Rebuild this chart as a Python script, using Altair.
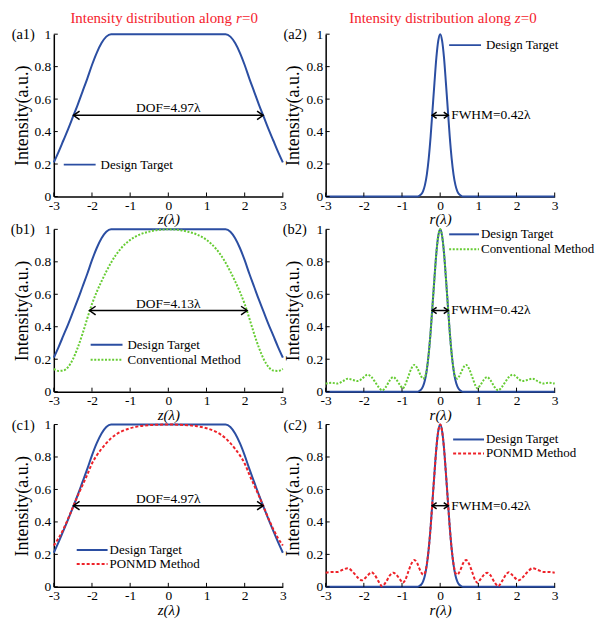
import altair as alt
import pandas as pd

FONT = "Liberation Serif"
BLUE = "#2b4ea2"
GREEN = "#66cc33"
RED = "#ee2229"
TITLE_RED = "#f5222d"

W, H = 230, 163

# ---------------- data ----------------
x_ticks = [-3, -2, -1, 0, 1, 2, 3]
y_ticks = [0, 0.2, 0.4, 0.6, 0.8, 1]

# intensity along r = 0 (function of z)
z_pos = [-3.0, -2.875, -2.75, -2.625, -2.5, -2.375, -2.25, -2.125, -2.0, -1.875,
         -1.75, -1.625, -1.5, -1.25, -1.0, -0.75, -0.5, -0.25, 0.0, 0.25, 0.5,
         0.75, 1.0, 1.25, 1.5, 1.625, 1.75, 1.875, 2.0, 2.125, 2.25, 2.375, 2.5,
         2.625, 2.75, 2.875, 3.0]
design_z = [0.21, 0.275, 0.345, 0.415, 0.49, 0.565, 0.645, 0.725, 0.81, 0.885,
            0.945, 0.985, 1.0, 1.0, 1.0, 1.0, 1.0, 1.0, 1.0, 1.0, 1.0,
            1.0, 1.0, 1.0, 1.0, 0.985, 0.945, 0.885, 0.81, 0.725, 0.645, 0.565, 0.49,
            0.415, 0.345, 0.275, 0.21]
conv_z = [0.14, 0.128, 0.13, 0.152, 0.2, 0.27, 0.355, 0.45, 0.54, 0.615,
          0.68, 0.74, 0.795, 0.88, 0.935, 0.968, 0.986, 0.997, 1.0, 0.997, 0.986,
          0.968, 0.935, 0.88, 0.795, 0.74, 0.68, 0.615, 0.54, 0.45, 0.355, 0.27, 0.2,
          0.152, 0.13, 0.128, 0.14]
ponmd_z = [0.255, 0.3, 0.355, 0.42, 0.49, 0.56, 0.625, 0.69, 0.76, 0.81,
           0.85, 0.885, 0.915, 0.955, 0.977, 0.99, 0.996, 0.999, 1.0, 0.999, 0.996,
           0.99, 0.977, 0.955, 0.915, 0.885, 0.85, 0.81, 0.76, 0.69, 0.625, 0.56, 0.49,
           0.42, 0.355, 0.3, 0.255]

# intensity along z = 0 (function of r)
r_design_pos = [-3.0, -0.6, -0.55, -0.5, -0.45, -0.4, -0.35, -0.3, -0.25, -0.2, -0.15,
                -0.1, -0.05, 0.0, 0.05, 0.1, 0.15, 0.2, 0.25, 0.3, 0.35, 0.4, 0.45,
                0.5, 0.55, 0.6, 3.0]
design_r = [0.0, 0.0, 0.004, 0.013, 0.032, 0.07, 0.135, 0.235, 0.37, 0.535, 0.70,
            0.855, 0.96, 1.0, 0.96, 0.855, 0.70, 0.535, 0.37, 0.235, 0.135, 0.07, 0.032,
            0.013, 0.004, 0.0, 0.0]

r_method_pos = [-3.0, -2.85, -2.7, -2.55, -2.42, -2.28, -2.15, -2.05, -1.9, -1.8, -1.72,
                -1.62, -1.52, -1.42, -1.32, -1.23, -1.15, -1.05, -0.98, -0.92, -0.84,
                -0.76, -0.68, -0.6, -0.55, -0.5, -0.45, -0.4, -0.35, -0.3, -0.25, -0.2,
                -0.15, -0.1, -0.05, 0.0,
                0.05, 0.1, 0.15, 0.2, 0.25, 0.3, 0.35, 0.4, 0.45, 0.5, 0.55, 0.6, 0.68,
                0.76, 0.84, 0.92, 0.98, 1.05, 1.15, 1.23, 1.32, 1.42, 1.52, 1.62, 1.72,
                1.8, 1.9, 2.05, 2.15, 2.28, 2.42, 2.55, 2.7, 2.85, 3.0]
conv_r = [0.05, 0.055, 0.05, 0.065, 0.08, 0.072, 0.065, 0.08, 0.105, 0.09, 0.065,
          0.03, 0.008, 0.03, 0.07, 0.09, 0.075, 0.04, 0.02, 0.04, 0.09,
          0.14, 0.165, 0.145, 0.12, 0.095, 0.08, 0.09, 0.14, 0.235, 0.37, 0.535,
          0.70, 0.855, 0.96, 1.0,
          0.96, 0.855, 0.70, 0.535, 0.37, 0.235, 0.14, 0.09, 0.08, 0.095, 0.12, 0.145, 0.165,
          0.14, 0.09, 0.04, 0.02, 0.04, 0.075, 0.09, 0.07, 0.03, 0.008, 0.03, 0.065,
          0.09, 0.105, 0.08, 0.065, 0.072, 0.08, 0.065, 0.05, 0.055, 0.05]
ponmd_r = [0.087, 0.092, 0.092, 0.105, 0.115, 0.09, 0.055, 0.04, 0.07, 0.09, 0.075,
           0.035, 0.004, 0.03, 0.07, 0.087, 0.075, 0.045, 0.025, 0.04, 0.09,
           0.14, 0.165, 0.145, 0.115, 0.09, 0.075, 0.085, 0.14, 0.235, 0.37, 0.535,
           0.70, 0.855, 0.96, 1.0,
           0.96, 0.855, 0.70, 0.535, 0.37, 0.235, 0.14, 0.085, 0.075, 0.09, 0.115, 0.145, 0.165,
           0.14, 0.09, 0.04, 0.025, 0.045, 0.075, 0.087, 0.07, 0.03, 0.004, 0.035, 0.075,
           0.09, 0.07, 0.04, 0.055, 0.09, 0.115, 0.105, 0.092, 0.092, 0.087]

series_names = ["Design Target", "Conventional Method", "PONMD Method"]
panel_labels = ["(a1)", "(a2)", "(b1)", "(b2)", "(c1)", "(c2)"]
dof_values = [4.97, 4.13, 4.97]
fwhm_values = [0.42, 0.42, 0.42]
title_left = ["Intensity distribution along", "r", "=0"]
title_right = ["Intensity distribution along", "z", "=0"]

TXT = 13.5
LEG = 13

# ---------------- helpers ----------------
def enc_x(title):
    return alt.X("x:Q", scale=alt.Scale(domain=[-3, 3], nice=False, zero=False),
                 axis=alt.Axis(values=x_ticks, title=title, labelExpr="'' + datum.value",
                               labelFlush=False, titleFontStyle="italic", titlePadding=0,
                               labelPadding=2))


def enc_y():
    return alt.Y("y:Q", scale=alt.Scale(domain=[0, 1], nice=False, zero=False),
                 axis=alt.Axis(values=y_ticks, title="Intensity(a.u.)",
                               labelExpr="'' + datum.value", labelFlush=False,
                               titleFontSize=18, titlePadding=3, labelPadding=3))


def line_df(xs, ys):
    return pd.DataFrame({"x": xs, "y": ys})


def marker(xv, yv):
    # tiny white mark that fixes the outer extent of the drawing
    return (alt.Chart(pd.DataFrame({"t": ["m"]}))
            .mark_rule(color="white", strokeWidth=1)
            .encode(x=alt.value(xv), x2=alt.value(xv + 1), y=alt.value(yv)))


def panel(xtitle, lines, label, legend, annot, title_parts=None, extra=None):
    x = enc_x(xtitle)
    y = enc_y()
    layers = []
    for df, color, dash in lines:
        kw = dict(color=color, strokeWidth=2, interpolate="monotone")
        if dash:
            kw["strokeDash"] = dash
        layers.append(alt.Chart(df).mark_line(**kw).encode(x=x, y=y))
    # inward ticks
    layers.append(alt.Chart(pd.DataFrame({"x": x_ticks})).mark_rule(color="black", strokeWidth=1)
                  .encode(x=x, y=alt.value(H), y2=alt.value(H - 4)))
    layers.append(alt.Chart(pd.DataFrame({"y": y_ticks})).mark_rule(color="black", strokeWidth=1)
                  .encode(y=y, x=alt.value(0), x2=alt.value(4)))
    # annotation arrow
    kind, val = annot
    half = val / 2
    arr = pd.DataFrame({"x": [-half], "x2": [half], "y": [0.5]})
    hsize = 150 if kind == "DOF" else 80
    layers.append(alt.Chart(arr).mark_rule(color="black", strokeWidth=1.5)
                  .encode(x=x, x2="x2:Q", y=y))
    layers.append(alt.Chart(pd.DataFrame({"x": [-half], "y": [0.5]}))
                  .mark_point(shape="M1,-0.7L0,0L1,0.7", filled=False, color="black",
                              strokeWidth=1.5, size=hsize, opacity=1)
                  .encode(x=x, y=y))
    layers.append(alt.Chart(pd.DataFrame({"x": [half], "y": [0.5]}))
                  .mark_point(shape="M-1,-0.7L0,0L-1,0.7", filled=False, color="black",
                              strokeWidth=1.5, size=hsize, opacity=1)
                  .encode(x=x, y=y))
    txt = f"{kind}={val:.2f}λ"
    if kind == "DOF":
        layers.append(alt.Chart(pd.DataFrame({"x": [0.0], "y": [0.5], "t": [txt]}))
                      .mark_text(font=FONT, fontSize=TXT, align="center", baseline="alphabetic",
                                 dy=-3, color="black")
                      .encode(x=x, y=y, text="t:N"))
    else:
        layers.append(alt.Chart(pd.DataFrame({"x": [half], "y": [0.5], "t": [txt]}))
                      .mark_text(font=FONT, fontSize=TXT, align="left", baseline="middle",
                                 dx=3, color="black")
                      .encode(x=x, y=y, text="t:N"))
    # manual legend
    lx0, lx1, tx, rows = legend
    for name, color, dash, ly in rows:
        kw = dict(color=color, strokeWidth=2)
        if dash:
            kw["strokeDash"] = dash
        d = pd.DataFrame({"t": [name]})
        layers.append(alt.Chart(d).mark_rule(**kw)
                      .encode(x=alt.value(lx0), x2=alt.value(lx1), y=alt.value(ly)))
        layers.append(alt.Chart(d).mark_text(font=FONT, fontSize=LEG, align="left",
                                             baseline="middle", color="black")
                      .encode(x=alt.value(tx), y=alt.value(ly), text="t:N"))
    # panel label
    layers.append(alt.Chart(pd.DataFrame({"t": [label]}))
                  .mark_text(font=FONT, fontSize=14.5, align="right", baseline="middle", color="black")
                  .encode(x=alt.value(-19), y=alt.value(1), text="t:N"))
    # red column title
    if title_parts is not None:
        parts, x0 = title_parts
        specs = [(parts[0], "right", "normal", x0), (parts[1], "left", "italic", x0 + 4),
                 (parts[2], "left", "normal", x0 + 10)]
        for t, al, st, xx in specs:
            layers.append(alt.Chart(pd.DataFrame({"t": [t]}))
                          .mark_text(font=FONT, fontSize=15, align=al, baseline="middle",
                                     fontStyle=st, color=TITLE_RED)
                          .encode(x=alt.value(xx), y=alt.value(-16.5), text="t:N"))
    if extra is not None:
        layers.append(extra)
    return alt.layer(*layers).properties(width=W, height=H)


ZT, RT = "z(λ)", "r(λ)"
GD, RD = [2, 1.6], [3, 2]

a1 = panel(ZT, [(line_df(z_pos, design_z), BLUE, None)], panel_labels[0],
           (10, 42, 47, [(series_names[0], BLUE, None, 131)]),
           ("DOF", dof_values[0]), (title_left, 179), extra=marker(-47, -29))
a2 = panel(RT, [(line_df(r_design_pos, design_r), BLUE, None)], panel_labels[1],
           (124, 156, 161, [(series_names[0], BLUE, None, 11)]),
           ("FWHM", fwhm_values[0]), (title_right, 186))
b1 = panel(ZT, [(line_df(z_pos, design_z), BLUE, None), (line_df(z_pos, conv_z), GREEN, GD)],
           panel_labels[2],
           (37, 69, 74, [(series_names[0], BLUE, None, 116), (series_names[1], GREEN, GD, 131)]),
           ("DOF", dof_values[1]))
b2 = panel(RT, [(line_df(r_design_pos, design_r), BLUE, None), (line_df(r_method_pos, conv_r), GREEN, GD)],
           panel_labels[3],
           (124, 154, 156, [(series_names[0], BLUE, None, 5), (series_names[1], GREEN, GD, 20)]),
           ("FWHM", fwhm_values[1]), extra=marker(300, 0))
c1 = panel(ZT, [(line_df(z_pos, design_z), BLUE, None), (line_df(z_pos, ponmd_z), RED, RD)],
           panel_labels[4],
           (23, 54, 56, [(series_names[0], BLUE, None, 126), (series_names[2], RED, RD, 140)]),
           ("DOF", dof_values[2]), extra=marker(0, H + 30))
c2 = panel(RT, [(line_df(r_design_pos, design_r), BLUE, None), (line_df(r_method_pos, ponmd_r), RED, RD)],
           panel_labels[5],
           (128, 159, 161, [(series_names[0], BLUE, None, 15), (series_names[2], RED, RD, 29)]),
           ("FWHM", fwhm_values[2]))

chart = (alt.concat(a1, a2, b1, b2, c1, c2, columns=2,
                    spacing={"row": 33, "column": 43}, bounds="flush")
         .properties(padding={"left": -2, "top": -5, "right": -23.5, "bottom": -0.5},
                     background="white")
         .configure_view(stroke=None)
         .configure_axis(domainColor="black", domainWidth=1.5, ticks=False, grid=False,
                         labelFont=FONT, labelFontSize=TXT, labelColor="black",
                         titleFont=FONT, titleFontSize=15, titleFontWeight="normal",
                         titleColor="black"))

chart.save("out.html", embed_options={"renderer": "svg", "actions": False})
